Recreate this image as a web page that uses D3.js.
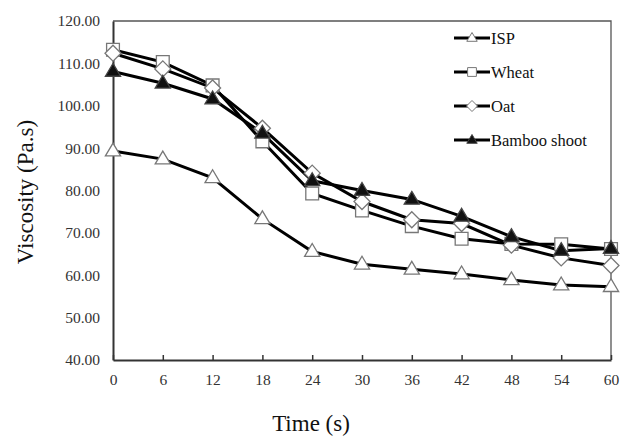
<!DOCTYPE html>
<html>
<head>
<meta charset="utf-8">
<script src="https://cdn.jsdelivr.net/npm/d3@7/dist/d3.min.js"></script>
<style>
body { margin: 0; background: #fff; }
text { font-family: "Liberation Serif", "Times New Roman", serif; }
</style>
</head>
<body>
<script>
// données
var times = [0, 6, 12, 18, 24, 30, 36, 42, 48, 54, 60];
var isp = [89.3, 87.4, 83.0, 73.3, 65.6, 62.6, 61.4, 60.3, 58.9, 57.7, 57.3];
var wheat = [113.2, 110.3, 104.8, 91.6, 79.3, 75.3, 71.6, 68.6, 67.4, 67.3, 66.2];
var oat = [112.4, 108.7, 104.2, 94.7, 84.1, 77.4, 73.1, 72.2, 67.1, 64.1, 62.3];
var bamboo = [108.1, 105.3, 101.6, 93.5, 82.3, 80.0, 77.9, 73.9, 69.1, 65.8, 66.3];
var seriesNames = ["ISP", "Wheat", "Oat", "Bamboo shoot"];
var yTicks = [40, 50, 60, 70, 80, 90, 100, 110, 120];

var series = [
    {name: seriesNames[0], values: isp, shape: "tri", fill: "#fff"},
    {name: seriesNames[1], values: wheat, shape: "sq", fill: "#fff"},
    {name: seriesNames[2], values: oat, shape: "dia", fill: "#fff"},
    {name: seriesNames[3], values: bamboo, shape: "tri", fill: "#111"}
];

var W = 621, H = 438;
var svg = d3.select("body").append("svg").attr("width", W).attr("height", H);

var pLeft = 113, pRight = 611, pTop = 21, pBottom = 360;
var x = d3.scaleLinear().domain([0, 60]).range([pLeft, pRight]);
var y = d3.scaleLinear().domain([40, 120]).range([pBottom, pTop]);

// cadre : haut et droite
svg.append("path")
    .attr("d", "M" + pLeft + "," + pTop + "H" + pRight + "V" + pBottom)
    .attr("fill", "none").attr("stroke", "#555").attr("stroke-width", 1.3);

// axe x, graduations vers le haut
var xAxis = svg.append("g").attr("transform", "translate(0," + pBottom + ")")
    .call(d3.axisBottom(x).tickValues(times).tickSize(-5).tickPadding(14).tickSizeOuter(0));
xAxis.select(".domain").attr("stroke", "#333").attr("stroke-width", 2);
xAxis.selectAll(".tick line").attr("stroke", "#333").attr("stroke-width", 1.5);
xAxis.selectAll(".tick text").attr("font-size", 15.5).attr("fill", "#333")
    .attr("font-family", "Liberation Serif");

// axe y sans graduations
var yAxis = svg.append("g").attr("transform", "translate(" + pLeft + ",0)")
    .call(d3.axisLeft(y).tickValues(yTicks).tickSize(0).tickPadding(13).tickFormat(d3.format(".2f")));
yAxis.select(".domain").attr("stroke", "#333").attr("stroke-width", 2);
yAxis.selectAll(".tick text").attr("font-size", 15.5).attr("fill", "#333")
    .attr("font-family", "Liberation Serif");

// titres des axes
svg.append("text").attr("x", 311).attr("y", 431).attr("text-anchor", "middle")
    .attr("font-size", 23).attr("fill", "#111").text("Time (s)");
svg.append("text").attr("transform", "translate(33,192) rotate(-90)").attr("text-anchor", "middle")
    .attr("font-size", 23).attr("fill", "#111").text("Viscosity  (Pa.s)");

function markerPath(shape, s) {
    if (shape == "tri") return "M0," + (-s) + "L" + (s * 0.95) + "," + (s * 0.6) + "L" + (-s * 0.95) + "," + (s * 0.6) + "Z";
    if (shape == "sq") return "M" + (-s * 0.8) + "," + (-s * 0.8) + "h" + (s * 1.6) + "v" + (s * 1.6) + "h" + (-s * 1.6) + "Z";
    return "M0," + (-s) + "L" + s + ",0L0," + s + "L" + (-s) + ",0Z";
}

var line = d3.line().x(function(d, i) { return x(times[i]); }).y(function(d) { return y(d); });

series.forEach(function(s) {
    svg.append("path").datum(s.values).attr("d", line)
        .attr("fill", "none").attr("stroke", "#000").attr("stroke-width", 3);
});
series.forEach(function(s) {
    svg.append("g").selectAll("path").data(s.values).enter().append("path")
        .attr("transform", function(d, i) { return "translate(" + x(times[i]) + "," + y(d) + ")"; })
        .attr("d", markerPath(s.shape, 8))
        .attr("fill", s.fill).attr("stroke", s.fill == "#fff" ? "#777" : "#444").attr("stroke-width", 1.3);
});

// légende
var legY = [38, 72, 106, 140];
series.forEach(function(s, i) {
    var g = svg.append("g").attr("transform", "translate(0," + legY[i] + ")");
    g.append("line").attr("x1", 454).attr("x2", 490).attr("y1", 0).attr("y2", 0)
        .attr("stroke", "#000").attr("stroke-width", 3);
    g.append("path").attr("transform", "translate(472,0)").attr("d", markerPath(s.shape, 5.5))
        .attr("fill", s.fill).attr("stroke", s.fill == "#fff" ? "#777" : "#444").attr("stroke-width", 1);
    g.append("text").attr("x", 491).attr("y", 5.5).attr("font-size", 16.5).attr("fill", "#111").text(s.name);
});
</script>
</body>
</html>
